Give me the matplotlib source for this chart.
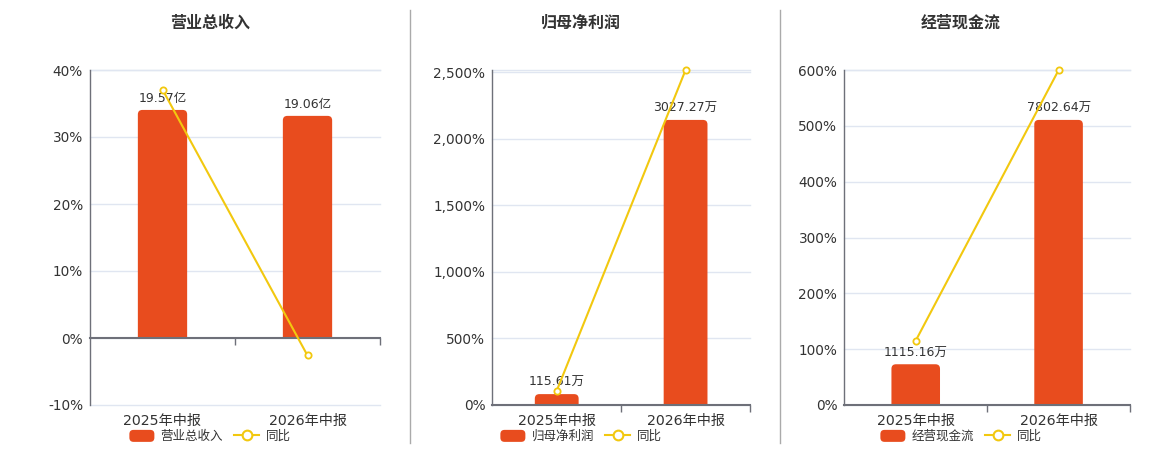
import matplotlib
matplotlib.use("Agg")
import matplotlib.pyplot as plt
from matplotlib.patches import FancyBboxPatch, Rectangle
from matplotlib.lines import Line2D
from matplotlib.legend_handler import HandlerPatch
from matplotlib.ticker import FuncFormatter, FixedLocator
from matplotlib.patches import Patch

plt.rcParams['font.family'] = ['DejaVu Sans', 'Noto Sans CJK SC']

# ---- data ----
categories = ["2025年中报", "2026年中报"]
titles = ["营业总收入", "归母净利润", "经营现金流"]
units = ["亿", "万", "万"]
revenue = [19.57, 19.06]
revenue_yoy = [37.07, -2.61]
net_profit = [115.61, 3027.27]
net_profit_yoy = [107.6, 2518.6]
cash_flow = [1115.16, 7802.64]
cash_flow_yoy = [115.2, 599.7]
bar_series = [revenue, net_profit, cash_flow]
yoy_series = [revenue_yoy, net_profit_yoy, cash_flow_yoy]
y_limits = [(-10, 40), (0, 2518.6), (0, 600)]
y_ticks = [[-10, 0, 10, 20, 30, 40],
           [0, 500, 1000, 1500, 2000, 2500],
           [0, 100, 200, 300, 400, 500, 600]]

# ---- style ----
BAR_C = "#E84C1E"
LINE_C = "#F2C80F"
TXT_C = "#333333"
AX_C = "#6E7079"
GRID_C = "#E0E6F1"
W, H = 1160, 450
fig = plt.figure(figsize=(W / 100, H / 100), dpi=100)

ax_px = [(90, 380), (492.3, 750), (844.3, 1130)]
top_px, bot_px = 70, 405
centers_px = [210, 581, 961]


class RoundPatchHandler(HandlerPatch):
    def create_artists(self, legend, orig_handle, xdescent, ydescent,
                       width, height, fontsize, trans):
        p = FancyBboxPatch((-xdescent, -ydescent), width, height,
                           boxstyle="round,pad=0,rounding_size=3",
                           facecolor=orig_handle.get_facecolor(),
                           edgecolor='none', transform=trans)
        return [p]


for i in range(3):
    l, r = ax_px[i]
    rect = [l / W, 1 - bot_px / H, (r - l) / W, (bot_px - top_px) / H]
    ax = fig.add_axes(rect, label=f"base{i}")
    axb = fig.add_axes(rect, label=f"bars{i}")
    axl = fig.add_axes(rect, label=f"line{i}")
    lo, hi = y_limits[i]
    for a in (ax, axb, axl):
        a.set_xlim(-0.5, 1.5)
        a.patch.set_visible(False)
        for s in a.spines.values():
            s.set_visible(False)
    ax.set_ylim(lo, hi)
    axl.set_ylim(lo, hi)

    # base axis: grid, y labels, x labels
    ax.yaxis.set_major_locator(FixedLocator(y_ticks[i]))
    ax.yaxis.set_major_formatter(FuncFormatter(lambda v, p: f"{v:,.0f}%"))
    ax.tick_params(axis='y', length=0, pad=5, labelsize=9.8, labelcolor=TXT_C)
    for t in y_ticks[i]:
        ax.axhline(t, color=GRID_C, lw=1, zorder=0, clip_on=False)
    ax.axhline(hi, color=GRID_C, lw=1, zorder=0, clip_on=False)
    ax.spines['left'].set_visible(True)
    ax.spines['left'].set_color(AX_C)
    ax.spines['left'].set_linewidth(1)
    ax.set_xticks(range(len(categories)))
    ax.set_xticklabels(categories)
    ax.tick_params(axis='x', length=0, pad=6.5, labelsize=10.2, labelcolor=TXT_C)

    # bars axis
    vals = bar_series[i]
    f0 = (0 - lo) / (hi - lo)
    btop = max(vals) / 0.851
    bbot = -btop * f0 / (1 - f0)
    axb.set_ylim(bbot, btop)
    axb.set_yticks([])
    axb.set_xticks([])
    bars = axb.bar(range(len(categories)), vals, width=0.34, color=BAR_C)
    p0 = axb.transData.transform((0, 0))
    p1 = axb.transData.transform((1, 1))
    px_x = p1[0] - p0[0]
    px_y = p1[1] - p0[1]
    rad_px = 4.5
    rx = rad_px / px_x
    ry = rad_px / px_y
    for b, v in zip(bars, vals):
        x, w = b.get_x(), b.get_width()
        b.set_visible(False)
        fb = FancyBboxPatch((x, -ry * 2), w, v + ry * 2,
                            boxstyle=f"round,pad=0,rounding_size={rx}",
                            mutation_aspect=ry / rx,
                            facecolor=BAR_C, edgecolor="none", zorder=2)
        axb.add_patch(fb)
        fb.set_clip_path(Rectangle((x - w, 0), 3 * w, btop * 2,
                                   transform=axb.transData))
        axb.annotate(f"{v:.2f}{units[i]}", (x + w / 2, v), xytext=(0, 3.5),
                     textcoords="offset points", ha="center", va="bottom",
                     fontsize=9, color=TXT_C)

    # line axis
    axl.set_yticks([])
    axl.spines['bottom'].set_visible(True)
    axl.spines['bottom'].set_position(('data', 0))
    axl.spines['bottom'].set_color(AX_C)
    axl.spines['bottom'].set_linewidth(1.5)
    axl.xaxis.set_ticks_position('bottom')
    axl.set_xticks([0.5, 1.5])
    axl.set_xticklabels([])
    axl.tick_params(axis='x', length=5, width=1, color=AX_C, direction='out')
    axl.plot(range(len(categories)), yoy_series[i], color=LINE_C, lw=1.5,
             marker='o', markersize=4.5, markerfacecolor='white',
             markeredgecolor=LINE_C, markeredgewidth=1.3, zorder=3,
             clip_on=False)

    # title
    fig.text(centers_px[i] / W, 1 - 23 / H, titles[i], ha='center', va='center',
             fontsize=11.5, fontweight='bold', color=TXT_C)

    # legend
    bar_handle = Patch(facecolor=BAR_C, edgecolor='none')
    handles = [bar_handle,
               Line2D([], [], color=LINE_C, lw=1.5, marker='o', markersize=7,
                      markerfacecolor='white', markeredgecolor=LINE_C,
                      markeredgewidth=1.5)]
    fig.legend(handles, [titles[i], "同比"], loc='center',
               bbox_to_anchor=(centers_px[i] / W, 1 - 436.5 / H), ncol=2,
               frameon=False, fontsize=9, labelcolor=TXT_C,
               handlelength=2.0, handleheight=1.1, handletextpad=0.5,
               columnspacing=0.9, borderpad=0,
               handler_map={bar_handle: RoundPatchHandler()})

# separators
for xs in (410, 780):
    fig.add_artist(Line2D([xs / W, xs / W], [1 - 10 / H, 1 - 443 / H],
                          color="#AAAAAA", lw=1, transform=fig.transFigure))

fig.savefig("out.png", dpi=100)
